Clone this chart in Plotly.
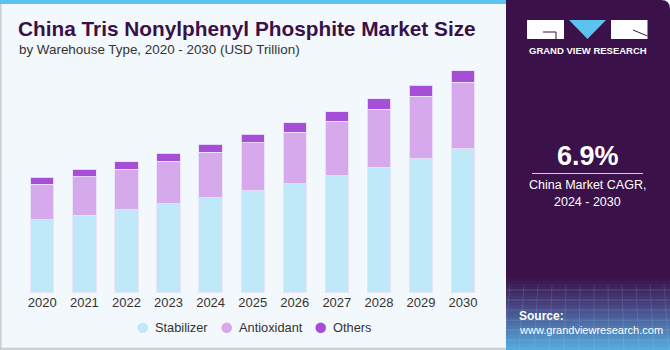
import plotly.graph_objects as go

W, H = 670, 350

years = ["2020", "2021", "2022", "2023", "2024", "2025", "2026", "2027", "2028", "2029", "2030"]
stabilizer = [39.6, 42.3, 45.2, 48.5, 51.7, 55.4, 59.4, 63.7, 68.3, 73.0, 78.4]
antioxidant = [19.4, 20.9, 22.0, 23.1, 24.7, 26.3, 28.0, 29.6, 31.6, 34.0, 36.3]
others = [3.8, 4.0, 4.1, 4.4, 4.5, 4.7, 5.1, 5.2, 5.6, 6.0, 6.2]
series_names = ["Stabilizer", "Antioxidant", "Others"]
colors = ["#BFE9F9", "#D5A9EC", "#A54FD7"]

label_year = "2021"
label_text = "$67.2M"

def px(x):
    return x / W

def py(y):
    return 1 - y / H

fig = go.Figure()
for name, vals, c in zip(series_names, [stabilizer, antioxidant, others], colors):
    fig.add_trace(go.Bar(
        x=years, y=vals, name=name, marker_color=c,
        marker_line=dict(width=1, color="rgba(235,225,250,0.9)"),
        showlegend=False, hoverinfo="skip"))

totals = [a + b + o for a, b, o in zip(stabilizer, antioxidant, others)]
idx = years.index(label_year)

shapes = []
# top stripe
shapes.append(dict(type="rect", xref="paper", yref="paper", x0=0, x1=px(506), y0=py(4), y1=1,
                   fillcolor="#5BC3EE", line_width=0, layer="below"))
# left / bottom border
shapes.append(dict(type="line", xref="paper", yref="paper", x0=px(0.8), x1=px(0.8), y0=py(4), y1=py(349),
                   line=dict(color="#C8CCD0", width=1.5)))
shapes.append(dict(type="line", xref="paper", yref="paper", x0=px(0), x1=px(506), y0=py(348.8), y1=py(348.8),
                   line=dict(color="#C8CCD0", width=2)))
# right panel with rounded top-right corner
x0p, x1p, y0p, y1p, r = 506, 670, 0, 350, 9
path = (f"M {px(x0p)},{py(y1p)} L {px(x0p)},{py(y0p)} L {px(x1p - r)},{py(y0p)} "
        f"Q {px(x1p)},{py(y0p)} {px(x1p)},{py(y0p + r)} L {px(x1p)},{py(y1p)} Z")
shapes.append(dict(type="path", xref="paper", yref="paper", path=path,
                   fillcolor="#3A1149", line_width=0))
# gradient at bottom of panel
def lerp(c1, c2, t):
    return "#%02X%02X%02X" % tuple(int(round(a + (b - a) * t)) for a, b in zip(c1, c2))
top_c, mid_c, bot_c = (58, 17, 73), (70, 60, 120), (85, 170, 222)
g0, g1 = 275, 350
n = 25
for i in range(n):
    t = i / (n - 1)
    if t < 0.35:
        col = lerp(top_c, mid_c, t / 0.35)
    else:
        col = lerp(mid_c, bot_c, (t - 0.35) / 0.65)
    ya = g0 + (g1 - g0) * i / n
    yb = g0 + (g1 - g0) * (i + 1) / n
    shapes.append(dict(type="rect", xref="paper", yref="paper", x0=px(506), x1=px(670),
                       y0=py(yb), y1=py(ya), fillcolor=col, line_width=0))
# faint grid lines in gradient
for k in range(6):
    yy = 290 + k * 10
    shapes.append(dict(type="line", xref="paper", yref="paper", x0=px(506), x1=px(670),
                       y0=py(yy), y1=py(yy), line=dict(color="rgba(200,220,255,0.25)", width=0.7)))
for k in range(12):
    xx = 510 + k * 14
    shapes.append(dict(type="line", xref="paper", yref="paper", x0=px(xx), x1=px(xx - 6 + k),
                       y0=py(285), y1=py(350), line=dict(color="rgba(200,220,255,0.2)", width=0.7)))
# logo
shapes.append(dict(type="rect", xref="paper", yref="paper", x0=px(527), x1=px(564), y0=py(39), y1=py(20),
                   fillcolor="white", line_width=0))
shapes.append(dict(type="path", xref="paper", yref="paper",
                   path=f"M {px(569)},{py(20)} L {px(606)},{py(20)} L {px(587.5)},{py(39)} Z",
                   fillcolor="#5BC3EE", line_width=0))
shapes.append(dict(type="rect", xref="paper", yref="paper", x0=px(611), x1=px(647.5), y0=py(39), y1=py(20),
                   fillcolor="white", line_width=0))
shapes.append(dict(type="line", xref="paper", yref="paper", x0=px(543), x1=px(556), y0=py(32), y1=py(32),
                   line=dict(color="#3A1149", width=1)))
shapes.append(dict(type="line", xref="paper", yref="paper", x0=px(556), x1=px(556), y0=py(32), y1=py(39),
                   line=dict(color="#3A1149", width=1)))
shapes.append(dict(type="line", xref="paper", yref="paper", x0=px(633), x1=px(647.5), y0=py(30), y1=py(36),
                   line=dict(color="#3A1149", width=1)))
# divider under CAGR
shapes.append(dict(type="line", xref="paper", yref="paper", x0=px(532), x1=px(643), y0=py(173.5), y1=py(173.5),
                   line=dict(color="#D8CDE0", width=1.2)))

annotations = [
    dict(text="<b>China Tris Nonylphenyl Phosphite Market Size</b>", x=px(16), y=py(29), xanchor="left",
         yanchor="middle", font=dict(family="Liberation Sans, Arial", size=20.8, color="#3A1048")),
    dict(text="by Warehouse Type, 2020 - 2030 (USD Trillion)", x=px(17), y=py(49), xanchor="left",
         yanchor="middle", font=dict(family="Liberation Sans, Arial", size=13.4, color="#333333")),
    dict(text="<b>GRAND VIEW RESEARCH</b>", x=px(587.5), y=py(51), xanchor="center", yanchor="middle",
         font=dict(family="Liberation Sans, Arial", size=9.5, color="white")),
    dict(text="<b>6.9%</b>", x=px(587.5), y=py(156), xanchor="center", yanchor="middle",
         font=dict(family="Liberation Sans, Arial", size=27, color="white")),
    dict(text="China Market CAGR,", x=px(587.5), y=py(185), xanchor="center", yanchor="middle",
         font=dict(family="Liberation Sans, Arial", size=12.5, color="white")),
    dict(text="2024 - 2030", x=px(587.5), y=py(201.5), xanchor="center", yanchor="middle",
         font=dict(family="Liberation Sans, Arial", size=12.5, color="white")),
    dict(text="<b>Source:</b>", x=px(517), y=py(316), xanchor="left", yanchor="middle",
         font=dict(family="Liberation Sans, Arial", size=12, color="white")),
    dict(text="www.grandviewresearch.com", x=px(517), y=py(329.5), xanchor="left", yanchor="middle",
         font=dict(family="Liberation Sans, Arial", size=11, color="white")),
    dict(text=label_text, x=label_year, y=totals[idx], xref="x", yref="y", yshift=12, showarrow=False,
         xanchor="center", yanchor="bottom", font=dict(family="Liberation Sans, Arial", size=14, color="#333333")),
]

# manual legend with circle markers
legend_x = [142.7, 226.7, 320.7]
legend_y = 327.7
rad = 5.3
for name, c, lx in zip(series_names, colors, legend_x):
    shapes.append(dict(type="circle", xref="paper", yref="paper",
                       x0=px(lx - rad), x1=px(lx + rad), y0=py(legend_y + rad), y1=py(legend_y - rad),
                       fillcolor=c, line_width=0))
    annotations.append(dict(text=name, x=px(lx + 10), y=py(legend_y), xanchor="left", yanchor="middle",
                            font=dict(family="Liberation Sans, Arial", size=12.8, color="#333333")))

for a in annotations:
    a.setdefault("xref", "paper")
    a.setdefault("yref", "paper")
    a.setdefault("showarrow", False)

fig.update_layout(
    width=W, height=H, margin=dict(l=0, r=0, t=0, b=0),
    paper_bgcolor="#F3F8FC", plot_bgcolor="rgba(0,0,0,0)",
    barmode="stack", bargap=0.446, showlegend=False,
    font=dict(family="Liberation Sans, Arial", color="#333333"),
    xaxis=dict(domain=[px(21.27), px(484.1)], type="category", range=[-0.5, 10.5],
               showgrid=False, zeroline=False, showline=False, ticks="",
               tickfont=dict(size=13, color="#333333")),
    yaxis=dict(domain=[py(292.7), py(60)], range=[0, 126.7], visible=False, showgrid=False),
    shapes=shapes, annotations=annotations,
)

fig.write_html("out.html")
